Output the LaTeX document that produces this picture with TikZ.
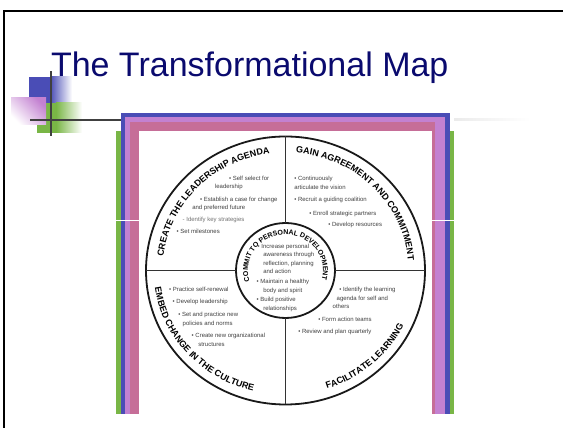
\documentclass[tikz,border=0pt]{standalone}
\usepackage{fontspec}
\setmainfont{Liberation Sans}
\usepackage{tikz}
\usetikzlibrary{decorations.text}
\definecolor{titlenavy}{HTML}{0A0A6E}
\definecolor{frameblue}{HTML}{4A4DB6}
\definecolor{framepurple}{HTML}{C381D1}
\definecolor{framepink}{HTML}{C66E98}
\definecolor{framegreen}{HTML}{79B646}
\definecolor{crossgray}{HTML}{404040}
\newcommand{\arcfont}{\fontsize{9}{9}\selectfont\bfseries}
\newcommand{\hubfont}{\fontsize{7}{7}\selectfont\bfseries}

\begin{document}
\begin{tikzpicture}[x=1pt,y=1pt]
        \tikzstyle{every node}=[inner sep=0pt, outer sep=0pt]
        \tikzstyle{item} = [anchor=base west, font=\fontsize{6}{7}\selectfont, text=black!75]
        \tikzstyle{ring} = [draw=black!90, line width=1.8pt]
        \tikzstyle{divider} = [draw=black!80, line width=1.4pt]
        \tikzstyle{curved} = [decorate, decoration={text along path, text align=center}]

        \useasboundingbox (0,0) rectangle (563,428);

        % slide border
        \draw[line width=2.3pt] (3.8,-5) -- (3.8,416.8) -- (570,416.8);

        % corner squares and cross
        \fill[frameblue] (29,325) rectangle (50,351);
        \shade[left color=frameblue, right color=white] (50,325) rectangle (72,351);
        \fill[framegreen] (37,295) rectangle (56,325);
        \shade[left color=framegreen, right color=white] (56,295) rectangle (82,325);
        \shade[top color=framepurple, bottom color=white, shading angle=-45] (11,303) rectangle (46,330);
        \draw[crossgray, line width=1.7pt] (30,307.7) -- (121,307.7);
        \draw[crossgray, line width=1.7pt] (50.7,292) -- (50.7,357);
        \shade[left color=black!8, right color=white] (454,307) rectangle (530,309);

        % picture frame
        \fill[framegreen] (116,14) rectangle (454,297);
        \fill[frameblue] (121,14) rectangle (450,315);
        \fill[framepurple] (125,14) rectangle (445,311);
        \fill[framepink] (130,14) rectangle (435,306);
        \fill[white] (139,14) rectangle (432,297);
        \draw[white, line width=0.8pt] (116,207.5) -- (139,207.5);
        \draw[white, line width=0.8pt] (432,207.5) -- (454,207.5);

        \node[anchor=base west, text=titlenavy, font=\fontsize{34}{40}\selectfont] (title) at (51,351) {The Transformational Map};

        % wheel
        \draw[ring] (285.5,157.5) ellipse [x radius=139.5, y radius=134];
        \draw[ring] (285.5,157.5) ellipse [x radius=49.5, y radius=47.5];
        \draw[divider] (285.7,291.5) -- (285.7,205);
        \draw[divider] (285.7,110) -- (285.7,23.5);
        \draw[divider] (146,157.5) -- (236,157.5);
        \draw[divider] (335,157.5) -- (425,157.5);

        % quadrant titles
        \path[curved, decoration={text={|\arcfont|CREATE THE LEADERSHIP AGENDA}}]
            (285.5,157.5) ++(185.5:123 and 118) arc[start angle=185.5, end angle=85.5, x radius=123, y radius=118];
        \path[curved, decoration={text={|\arcfont|GAIN AGREEMENT AND COMMITMENT}}]
            (285.5,157.5) ++(94.75:123 and 118) arc[start angle=94.75, end angle=-5.25, x radius=123, y radius=118];
        \path[curved, decoration={text={|\arcfont|EMBED CHANGE IN THE CULTURE}}]
            (285.5,157.5) ++(171.5:132 and 124.5) arc[start angle=171.5, end angle=271.5, x radius=132, y radius=124.5];
        \path[curved, decoration={text={|\arcfont|FACILITATE LEARNING}}]
            (285.5,157.5) ++(271.35:132 and 124.5) arc[start angle=271.35, end angle=351.35, x radius=132, y radius=124.5];
        \path[curved, decoration={text={|\hubfont|COMMIT TO PERSONAL DEVELOPMENT}}]
            (285.5,157.5) ++(216:37.5 and 36) arc[start angle=216, end angle=-34, x radius=37.5, y radius=36];

        % upper left
        \node[item] (ul1) at (229,247.7) {\textbullet\ Self select for};
        \node[item] (ul2) at (215,239.3) {leadership};
        \node[item] (ul3) at (200,226.7) {\textbullet\ Establish a case for change};
        \node[item] (ul4) at (192.3,218.3) {and preferred future};
        \node[item, text=black!55] (ul5) at (182.7,206.7) {- Identify key strategies};
        \node[item] (ul6) at (176.7,194.3) {\textbullet\ Set milestones};

        % upper right
        \node[item] (ur1) at (294.3,247) {\textbullet\ Continuously};
        \node[item] (ur2) at (294.3,238.3) {articulate the vision};
        \node[item] (ur3) at (294.3,226) {\textbullet\ Recruit a guiding coalition};
        \node[item] (ur4) at (309.3,212.7) {\textbullet\ Enroll strategic partners};
        \node[item] (ur5) at (328.3,201.7) {\textbullet\ Develop resources};

        % hub
        \node[item] (c1) at (257.7,179.3) {\textbullet\ Increase personal};
        \node[item] (c2) at (263.3,171) {awareness through};
        \node[item] (c3) at (263.3,162.3) {reflection, planning};
        \node[item] (c4) at (263.3,154) {and action};
        \node[item] (c5) at (256.7,144) {\textbullet\ Maintain a healthy};
        \node[item] (c6) at (263.3,135.7) {body and spirit};
        \node[item] (c7) at (256.7,126) {\textbullet\ Build positive};
        \node[item] (c8) at (263.3,117.7) {relationships};

        % lower left
        \node[item] (ll1) at (169,136.7) {\textbullet\ Practice self-renewal};
        \node[item] (ll2) at (172.7,124) {\textbullet\ Develop leadership};
        \node[item] (ll3) at (178.3,111.7) {\textbullet\ Set and practice new};
        \node[item] (ll4) at (182.7,102.7) {policies and norms};
        \node[item] (ll5) at (191.7,90.3) {\textbullet\ Create new organizational};
        \node[item] (ll6) at (198.3,81.7) {structures};

        % lower right
        \node[item] (lr1) at (339.3,136) {\textbullet\ Identify the learning};
        \node[item] (lr2) at (336.7,127.7) {agenda for self and};
        \node[item] (lr3) at (332.7,119.3) {others};
        \node[item] (lr4) at (318.3,106.7) {\textbullet\ Form action teams};
        \node[item] (lr5) at (298.3,94) {\textbullet\ Review and plan quarterly};
\end{tikzpicture}
\end{document}
